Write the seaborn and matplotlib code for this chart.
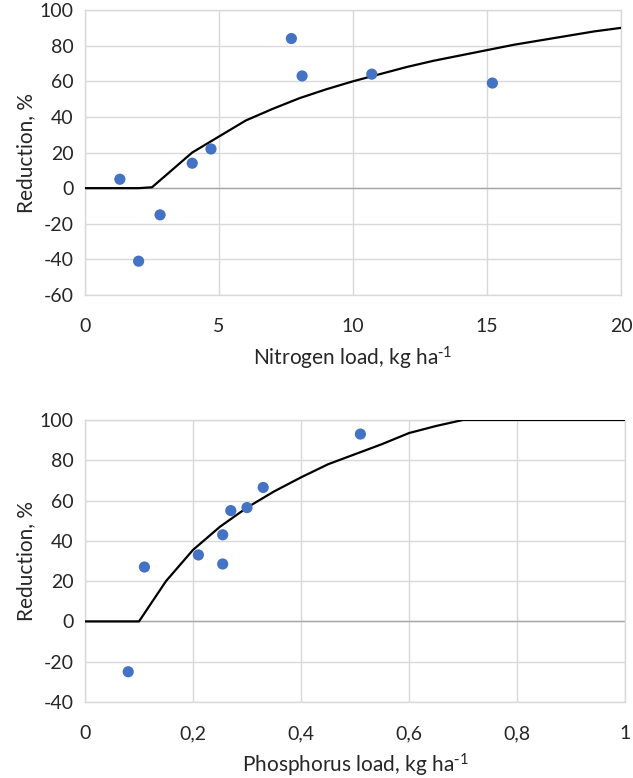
import numpy as np
import pandas as pd
import matplotlib
matplotlib.use('Agg')
import matplotlib.pyplot as plt
from matplotlib.ticker import FixedLocator, FixedFormatter
import seaborn as sns

# nitrogen: measured points and fitted curve
n_load = [1.3, 2.0, 2.8, 4.0, 4.7, 7.7, 8.1, 10.7, 15.2]
n_red = [5, -41, -15, 14, 22, 84, 63, 64, 59]
n_curve_x = [0, 1, 2, 2.5, 3, 4, 5, 6, 7, 8, 9, 10, 11, 12, 13, 14, 15, 16, 17, 18, 19, 20]
n_curve_y = [0, 0, 0, 0.5, 7, 20, 29, 38, 44.5, 50.5, 55.5, 60, 64, 68, 71.5, 74.5, 77.5, 80.5, 83, 85.5, 88, 90]

# phosphorus: measured points and fitted curve
p_load = [0.08, 0.11, 0.21, 0.255, 0.255, 0.27, 0.30, 0.33, 0.51]
p_red = [-25, 27, 33, 43, 28.5, 55, 56.5, 66.5, 93]
p_curve_x = [0, 0.1, 0.15, 0.2, 0.25, 0.3, 0.35, 0.4, 0.45, 0.5, 0.55, 0.6, 0.65, 0.7, 0.8, 0.9, 1.0]
p_curve_y = [0, 0, 20, 35.5, 47, 56.5, 64.5, 71.5, 78, 83, 88, 93.5, 97, 100, 100, 100, 100]

n_xticks = [0, 5, 10, 15, 20]
n_yticks = [-60, -40, -20, 0, 20, 40, 60, 80, 100]
p_xticks = [0, 0.2, 0.4, 0.6, 0.8, 1.0]
p_xlabels = ['0', '0,2', '0,4', '0,6', '0,8', '1']
p_yticks = [-40, -20, 0, 20, 40, 60, 80, 100]

sns.set_style('white')
plt.rcParams['font.family'] = ['Lato', 'DejaVu Sans']
plt.rcParams['mathtext.default'] = 'regular'
plt.rcParams['axes.unicode_minus'] = False

grid_c = '#d9d9d9'
text_c = '#262626'
dot_c = '#4472C4'

fig = plt.figure(figsize=(6.33, 7.78), dpi=100)
ax1 = fig.add_axes([0.1343, 0.6208, 0.8468, 0.3663])
ax2 = fig.add_axes([0.1343, 0.0977, 0.853, 0.3625])


def style_axis(ax, xticks, xlabels, yticks, xlabel):
    ax.set_xlim(xticks[0], xticks[-1])
    ax.set_ylim(yticks[0], yticks[-1])
    ax.xaxis.set_major_locator(FixedLocator(xticks))
    ax.xaxis.set_major_formatter(FixedFormatter(xlabels))
    ax.yaxis.set_major_locator(FixedLocator(yticks))
    ax.grid(True, color=grid_c, linewidth=1)
    ax.set_axisbelow(True)
    for s in ax.spines.values():
        s.set_color(grid_c)
        s.set_linewidth(1)
    ax.axhline(0, color='#a6a6a6', linewidth=1, zorder=1)
    ax.tick_params(axis='both', length=0, labelsize=14, colors=text_c)
    ax.tick_params(axis='x', pad=16.5)
    ax.tick_params(axis='y', pad=8)
    ax.set_xlabel(xlabel, fontsize=15, color=text_c, labelpad=7)
    ax.set_ylabel('Reduction, %', fontsize=15, color=text_c, labelpad=3)


sns.lineplot(x=n_curve_x, y=n_curve_y, ax=ax1, color='black', linewidth=1.6, zorder=3)
sns.scatterplot(x=n_load, y=n_red, ax=ax1, color=dot_c, s=65, edgecolor='none', zorder=4)
style_axis(ax1, n_xticks, [str(t) for t in n_xticks], n_yticks,
           r'Nitrogen load, kg ha$^{\text{-}1}$')

sns.lineplot(x=p_curve_x, y=p_curve_y, ax=ax2, color='black', linewidth=1.6, zorder=3)
sns.scatterplot(x=p_load, y=p_red, ax=ax2, color=dot_c, s=65, edgecolor='none', zorder=4)
style_axis(ax2, p_xticks, p_xlabels, p_yticks,
           r'Phosphorus load, kg ha$^{\text{-}1}$')

fig.savefig('out.png', dpi=100)
